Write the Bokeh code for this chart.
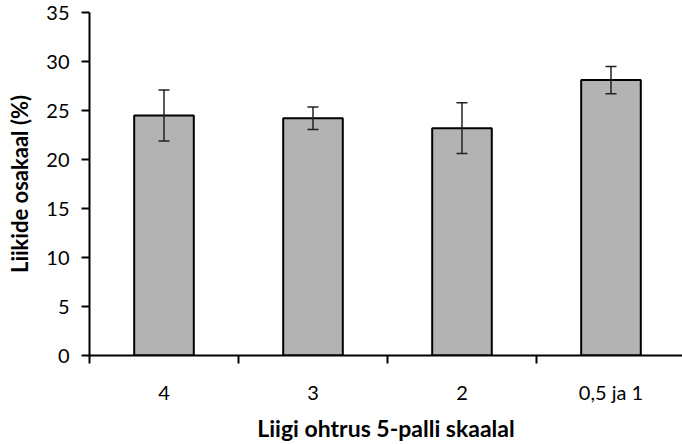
from bokeh.plotting import figure
from bokeh.models import ColumnDataSource, Range1d, FixedTicker, Whisker, TeeHead
from bokeh.embed import file_html
from bokeh.resources import INLINE

categories = ["4", "3", "2", "0,5 ja 1"]
values = [24.5, 24.2, 23.2, 28.1]
errors = [2.6, 1.15, 2.6, 1.4]

x = [i + 0.5 for i in range(len(categories))]
src = ColumnDataSource(dict(
    x=x, top=values,
    upper=[v + e for v, e in zip(values, errors)],
    lower=[v - e for v, e in zip(values, errors)],
))

FONT = "Lato"

p = figure(width=682, height=444, output_backend="svg", toolbar_location=None,
           x_range=Range1d(0, 3.98), y_range=Range1d(0, 35),
           min_border_top=12, min_border_bottom=89, min_border_left=89, min_border_right=0)
p.outline_line_color = None
p.xgrid.grid_line_color = None
p.ygrid.grid_line_color = None
p.background_fill_color = "white"

p.vbar(x="x", top="top", width=0.4, source=src, fill_color="#b3b3b3",
       line_color="black", line_width=2)

w = Whisker(base="x", upper="upper", lower="lower", source=src,
            line_color="#222222", line_width=1.5, level="annotation",
            upper_head=TeeHead(size=11, line_color="#222222", line_width=1.5),
            lower_head=TeeHead(size=11, line_color="#222222", line_width=1.5))
p.add_layout(w)

# x axis
xa = p.xaxis[0]
xa.ticker = FixedTicker(ticks=x, minor_ticks=list(range(len(categories))))
xa.major_label_overrides = {xi: c for xi, c in zip(x, categories)}
xa.major_tick_out = 0
xa.major_tick_in = 0
xa.minor_tick_out = 8
xa.minor_tick_in = 0
xa.minor_tick_line_color = "black"
xa.minor_tick_line_width = 2
xa.axis_line_width = 2
xa.axis_line_color = "black"
xa.major_label_text_font = FONT
xa.major_label_text_font_size = "20px"
xa.major_label_text_color = "black"
xa.major_label_standoff = 16
xa.axis_label = "Liigi ohtrus 5-palli skaalal"
xa.axis_label_text_font = FONT
xa.axis_label_text_font_style = "bold"
xa.axis_label_text_font_size = "23px"
xa.axis_label_text_color = "black"
xa.axis_label_standoff = 7

# y axis
ya = p.yaxis[0]
ya.ticker = FixedTicker(ticks=[0, 5, 10, 15, 20, 25, 30, 35])
ya.minor_tick_line_color = None
ya.major_tick_out = 8
ya.major_tick_in = 0
ya.major_tick_line_width = 2
ya.major_tick_line_color = "black"
ya.axis_line_width = 2
ya.axis_line_color = "black"
ya.major_label_text_font = FONT
ya.major_label_text_font_size = "20px"
ya.major_label_text_color = "black"
ya.major_label_standoff = 12
ya.axis_label = "Liikide osakaal (%)"
ya.axis_label_text_font = FONT
ya.axis_label_text_font_style = "bold"
ya.axis_label_text_font_size = "22px"
ya.axis_label_text_color = "black"
ya.axis_label_standoff = 10

open("out.html", "w").write(file_html(p, INLINE))
